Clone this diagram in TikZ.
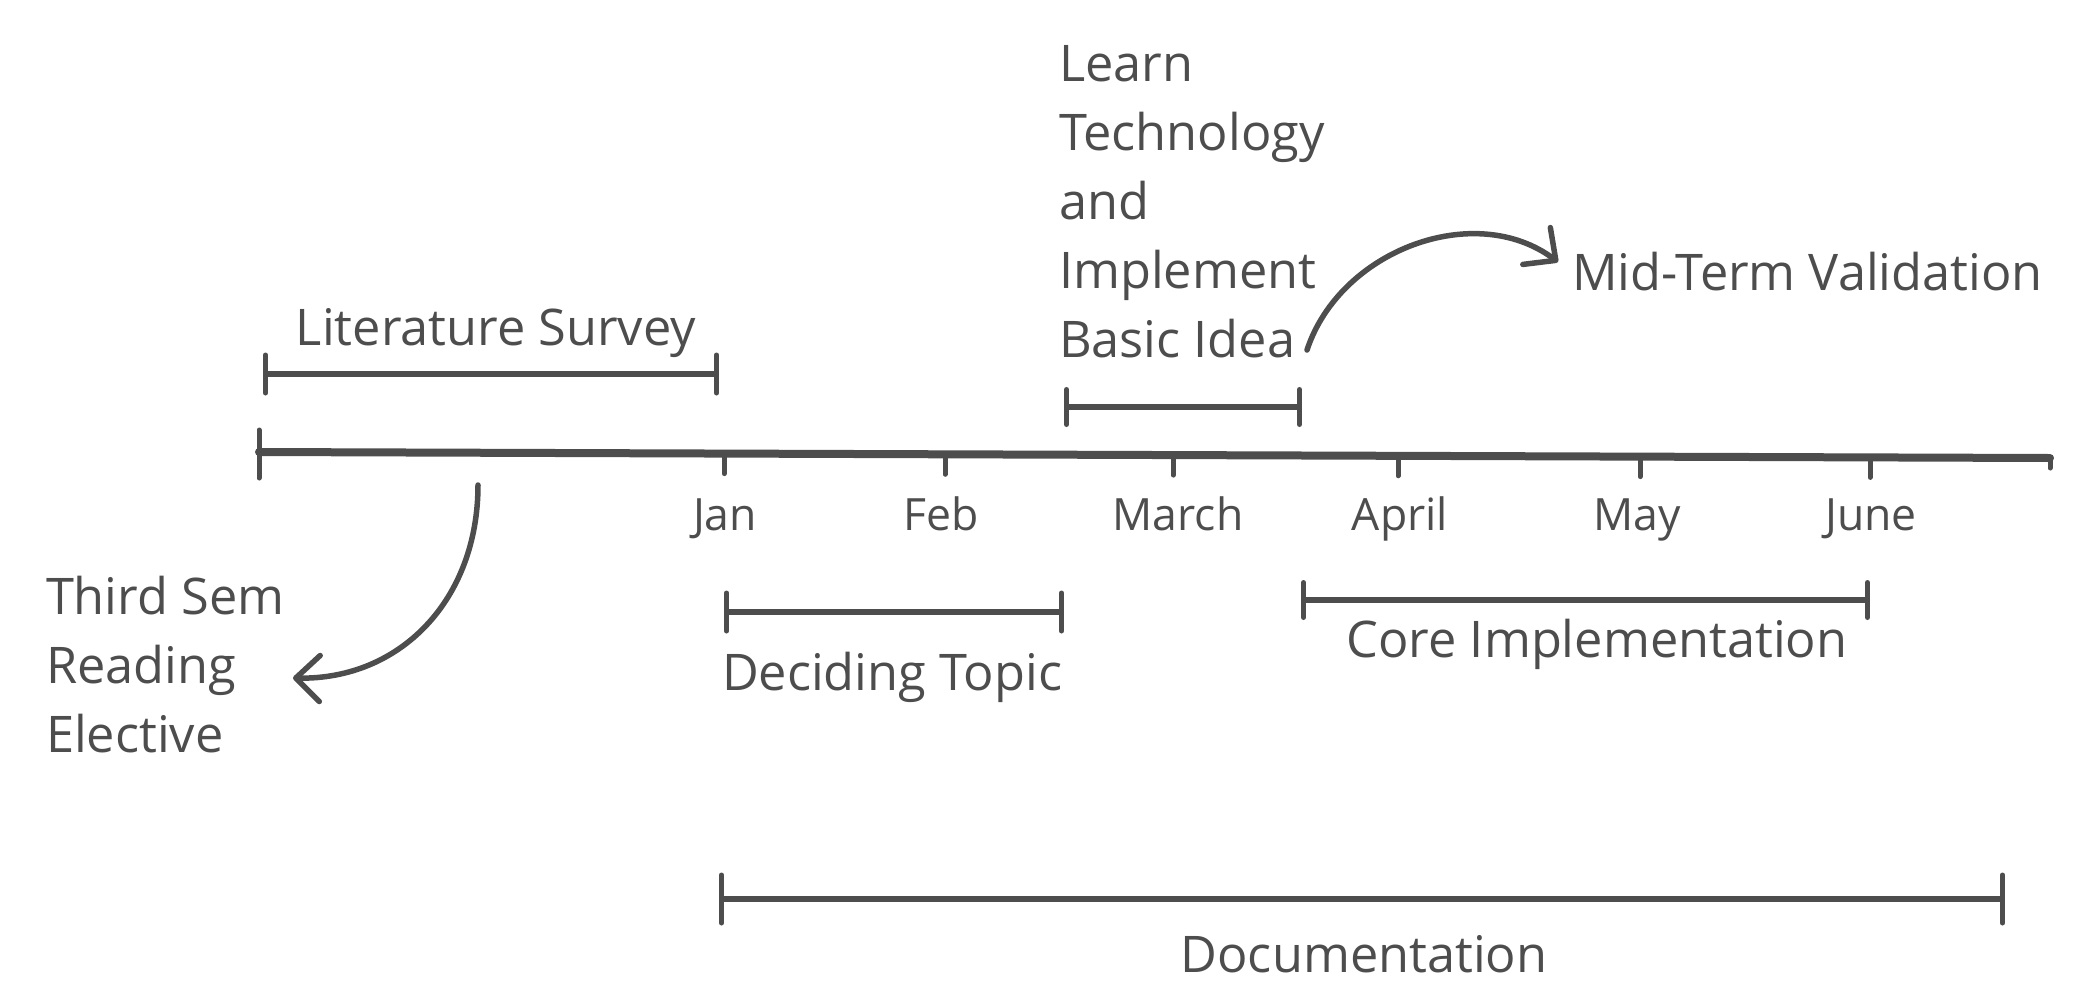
\documentclass[tikz,border=0pt]{standalone}
\usepackage{fontspec}
\setmainfont{Open Sans}
\usetikzlibrary{arrows.meta,calc}
\definecolor{ink}{HTML}{4D4D4D}
\begin{document}
\begin{tikzpicture}[x=1pt,y=-1pt,
  every node/.style={inner sep=0pt, outer sep=0pt, text=ink, font=\fontsize{50.5}{69}\selectfont},
  month/.style={anchor=base, font=\fontsize{44.5}{60}\selectfont},
  axisline/.style={draw=ink, line width=8pt, line cap=round},
  span/.style={draw=ink, line width=6.5pt, line cap=round, {Bar[width=#1,line width=5pt,round]}-{Bar[width=#1,line width=5pt,round]}},
  span/.default=36pt,
  tickmark/.style={draw=ink, line width=5pt, line cap=round},
  curvearrow/.style={draw=ink, line width=5.5pt, line cap=round, -{Straight Barb[length=24pt,width=46pt,round]}},
]
\useasboundingbox (0,0) rectangle (2094,1002);
% main axis
\coordinate (ax0) at (259,452);
\coordinate (ax1) at (2050,458);
\draw[axisline] (ax0) -- (ax1);
\draw[tickmark] ($(ax0)+(0,-22)$) -- ($(ax0)+(0,26)$);
\draw[tickmark] (ax1) -- ++(0,10);
% month ticks and labels
\coordinate (tJan) at (724,453.6);
\coordinate (tFeb) at (945,454.3);
\coordinate (tMar) at (1173,455.1);
\coordinate (tApr) at (1398,455.8);
\coordinate (tMay) at (1640,456.6);
\coordinate (tJun) at (1870,457.4);
\foreach \t in {tJan,tFeb,tMar,tApr,tMay,tJun}{\draw[tickmark] (\t) -- ++(0,20);}
\node[month] (lJan) at (725,530) {Jan};
\node[month] (lFeb) at (941,530) {Feb};
\node[month] (lMar) at (1178,530) {March};
\node[month] (lApr) at (1400,530) {April};
\node[month] (lMay) at (1637,530) {May};
\node[month] (lJun) at (1871,530) {June};
% Literature Survey
\coordinate (ls0) at (263,374);
\coordinate (ls1) at (719,374);
\draw[span=38pt] (ls0) -- (ls1);
\node[anchor=base] (lit) at (496,345) {Literature Survey};
% Learn Technology
\coordinate (lt0) at (1064,407);
\coordinate (lt1) at (1302,407);
\draw[span=35pt] (lt0) -- (lt1);
\node[anchor=base west, align=left] (learn) at (1059,357) {Learn\\Technology\\and\\Implement\\Basic Idea};
% Mid-term
\node[anchor=base west] (mid) at (1572,290) {Mid-Term Validation};
\coordinate (ma0) at (1307,350);
\coordinate (ma1) at (1558,262);
\draw[curvearrow] (ma0) .. controls (1340,250) and (1475,200) .. (ma1);
% Third sem
\node[anchor=base west, align=left] (third) at (46,752) {Third Sem\\Reading\\Elective};
\coordinate (ta0) at (478,485);
\coordinate (ta1) at (293,678);
\draw[curvearrow] (ta0) .. controls (478,600) and (400,680) .. (ta1);
% Deciding Topic
\coordinate (dt0) at (724,612);
\coordinate (dt1) at (1064,612);
\draw[span=38pt] (dt0) -- (dt1);
\node[anchor=base west] (decide) at (722,690) {Deciding Topic};
% Core Implementation
\coordinate (ci0) at (1301,600);
\coordinate (ci1) at (1870,600);
\draw[span=35pt] (ci0) -- (ci1);
\node[anchor=base] (core) at (1597,657) {Core Implementation};
% Documentation
\coordinate (dc0) at (719,899);
\coordinate (dc1) at (2005,899);
\draw[span=48pt] (dc0) -- (dc1);
\node[anchor=base] (doc) at (1364,972) {Documentation};
\end{tikzpicture}
\end{document}
